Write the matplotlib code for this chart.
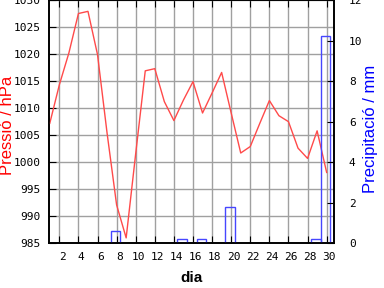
import numpy as np
import matplotlib
matplotlib.use('Agg')
import matplotlib.pyplot as plt
import matplotlib.ticker as ticker
import matplotlib.transforms as mtransforms

dias = list(range(1, 31))
pressio = [1007.2, 1014.3, 1020.2, 1027.5, 1027.9, 1019.9, 1005.4, 992.1, 986.0, 1001.6,
           1016.9, 1017.3, 1011.2, 1007.7, 1011.5, 1014.9, 1009.1, 1012.8, 1016.6, 1009.1,
           1001.7, 1002.9, 1007.2, 1011.4, 1008.6, 1007.5, 1002.6, 1000.7, 1005.8, 998.1]

dias_pluja = [8, 15, 17, 20, 29, 30]
pluja = [0.6, 0.2, 0.2, 1.8, 0.2, 10.2]

plt.rcParams['font.family'] = ['Liberation Sans', 'DejaVu Sans']

fig = plt.figure(figsize=(3.84, 2.88), dpi=100)
ax = fig.add_axes([49.3 / 384, 1 - 243.3 / 288, 285 / 384, 243.3 / 288])
ax2 = ax.twinx()

ax.plot(dias, pressio, color='#ff4a4a', lw=1.0, zorder=3)
ax.set_xlim(0.95, 30.8)
ax.set_ylim(985, 1030)
ax.xaxis.set_major_locator(ticker.MultipleLocator(2))
ax.yaxis.set_major_locator(ticker.MultipleLocator(5))
ax.grid(True, color='#a0a0a0', lw=1.0)
ax.set_axisbelow(True)

ax2.bar(np.array(dias_pluja) - 0.13, pluja, width=1.0, fill=False,
        edgecolor='#4646ff', lw=1.0)
ax2.set_ylim(0, 12)
ax2.yaxis.set_major_locator(ticker.MultipleLocator(2))

mono = 'DejaVu Sans Mono'
ax.tick_params(axis='x', direction='in', length=5, top=True, pad=6,
               labelsize=8, labelfontfamily=mono)
ax.tick_params(axis='y', direction='in', length=5, pad=6,
               labelsize=8, labelfontfamily=mono)
ax2.tick_params(axis='y', direction='in', length=5, pad=10.5,
                labelsize=8, labelfontfamily=mono)

# labels de l'eix x una mica desplaçats a la dreta
off = mtransforms.ScaledTranslation(2.7 / 100, 0, fig.dpi_scale_trans)
for lbl in ax.get_xticklabels():
    lbl.set_transform(lbl.get_transform() + off)

for a in (ax, ax2):
    for s in a.spines.values():
        s.set_linewidth(1.2)

ax.set_xlabel('dia', fontsize=11, fontweight='bold', labelpad=7)
ax.set_ylabel('Pressió / hPa', fontsize=12, color='red')
ax.yaxis.label.set_va('center')
ax.yaxis.set_label_coords(-0.145, 0.486)
ax2.set_ylabel('Precipitació / mm', fontsize=12, color='#0000ff')
ax2.yaxis.label.set_va('center')
ax2.yaxis.set_label_coords((370 - 49.3) / 285, (243.3 - 128.5) / 243.3)

fig.savefig('out.png', dpi=100)
